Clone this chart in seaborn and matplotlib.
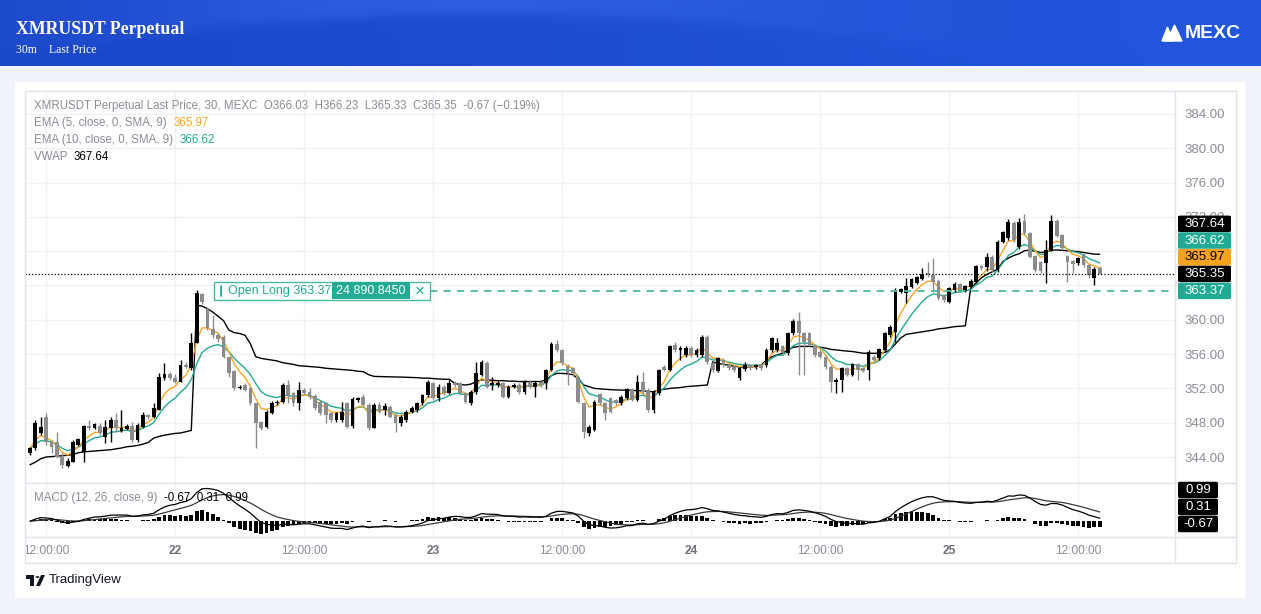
import numpy as np
import pandas as pd
import matplotlib
matplotlib.use("Agg")
import matplotlib.pyplot as plt
import seaborn as sns
from matplotlib.patches import Rectangle, FancyBboxPatch, Polygon, Circle
from matplotlib.lines import Line2D
from matplotlib import font_manager

# ---------------- data (30m candles) ----------------
opens = [344.43, 345.01, 346.76, 348.70, 345.79, 345.79, 344.04, 342.99, 343.45, 345.40,
         344.62, 347.61, 347.42, 347.65, 346.37, 347.34, 348.31, 347.03, 347.26, 347.65,
         345.98, 347.54, 348.90, 348.62, 349.48, 353.25, 353.64, 353.25, 352.78, 354.73,
         354.34, 357.25, 363.00, 361.22, 358.89, 358.23, 358.03, 355.70, 354.03, 352.00,
         352.40, 352.01, 350.26, 348.12, 347.54, 349.17, 350.26, 350.45, 352.40, 351.43,
         350.26, 351.82, 351.62, 351.12, 350.46, 350.26, 349.10, 348.32, 348.32, 350.26,
         347.62, 350.65, 351.04, 350.07, 347.35, 350.07, 349.50, 349.80, 348.90, 347.93,
         348.32, 349.29, 349.50, 350.34, 351.23, 352.60, 350.84, 352.21, 351.51, 352.60,
         352.59, 351.43, 350.26, 351.62, 353.57, 355.00, 352.40, 352.40, 352.59, 351.04,
         352.21, 352.40, 351.62, 352.79, 352.21, 352.79, 352.59, 354.15, 357.18, 356.48,
         354.62, 354.34, 353.37, 350.26, 346.76, 347.15, 351.35, 350.26, 350.84, 350.65,
         350.26, 350.84, 351.89, 350.65, 352.79, 351.82, 349.48, 351.43, 354.54, 354.15,
         357.06, 356.48, 355.90, 356.67, 355.90, 355.90, 358.03, 355.00, 354.07, 355.31,
         354.73, 354.54, 353.17, 354.22, 354.73, 354.54, 354.81, 354.73, 356.48, 356.48,
         356.95, 356.09, 358.42, 359.90, 358.42, 358.42, 357.06, 356.28, 355.70, 354.54,
         352.79, 352.98, 354.34, 353.56, 354.81, 354.34, 354.15, 355.70, 355.51, 356.48,
         358.23, 358.62, 363.28, 363.09, 363.86, 364.33, 364.72, 365.42, 365.22, 364.52,
         362.89, 362.11, 363.47, 364.17, 363.40, 363.86, 364.45, 366.27, 366.20, 367.36,
         365.81, 369.11, 369.50, 371.33, 368.53, 371.56, 370.08, 367.44, 366.78, 366.58,
         368.14, 371.56, 369.89, 367.44, 366.90, 366.58, 367.56, 366.39, 364.83, 366.03]
highs = [345.20, 348.31, 348.70, 349.17, 345.98, 346.95, 344.43, 343.84, 345.98, 346.20,
         347.73, 348.31, 348.00, 347.92, 348.31, 348.70, 349.09, 349.48, 347.90, 348.12,
         347.92, 349.29, 349.00, 350.26, 353.76, 354.92, 353.95, 353.64, 355.31, 355.12,
         358.42, 363.47, 363.16, 361.53, 360.56, 358.42, 358.23, 355.70, 354.14, 352.40,
         352.60, 352.20, 350.26, 348.20, 349.48, 350.50, 350.70, 352.60, 352.98, 351.60,
         352.79, 352.00, 352.00, 351.40, 350.65, 350.46, 349.30, 349.30, 350.46, 350.46,
         351.04, 351.00, 351.30, 350.26, 350.26, 350.46, 350.30, 350.07, 349.10, 348.90,
         349.50, 349.90, 350.46, 351.40, 352.98, 352.79, 352.50, 352.40, 352.98, 352.90,
         352.80, 351.60, 351.80, 355.12, 355.30, 355.20, 353.37, 352.90, 352.80, 352.40,
         352.60, 352.60, 353.00, 353.00, 352.90, 352.90, 354.30, 357.40, 357.65, 356.60,
         354.80, 354.50, 353.50, 350.40, 347.70, 350.60, 351.50, 350.40, 351.00, 350.80,
         351.20, 352.00, 352.00, 353.57, 353.95, 352.00, 351.80, 354.30, 354.70, 357.10,
         357.45, 356.90, 356.90, 356.90, 356.70, 358.20, 358.20, 355.20, 355.70, 355.50,
         354.90, 354.70, 354.50, 355.12, 354.90, 354.90, 355.00, 356.70, 358.00, 357.84,
         357.10, 358.60, 360.10, 360.95, 358.60, 358.60, 357.20, 356.50, 355.90, 354.70,
         353.20, 354.50, 354.50, 355.00, 355.00, 354.50, 356.50, 355.90, 356.70, 358.60,
         359.39, 363.67, 363.70, 364.83, 364.90, 365.10, 366.00, 366.78, 367.17, 364.70,
         363.00, 363.80, 364.45, 364.30, 364.10, 364.70, 366.40, 366.40, 367.83, 367.50,
         369.30, 370.40, 371.72, 371.50, 371.83, 372.34, 370.20, 367.60, 366.90, 369.31,
         372.22, 371.70, 370.00, 367.60, 367.00, 367.30, 367.83, 366.50, 366.10, 366.23]
lows = [344.20, 344.81, 346.56, 345.40, 344.43, 343.84, 342.68, 342.87, 343.45, 345.30,
        343.45, 347.15, 347.30, 346.56, 345.59, 345.79, 346.95, 346.95, 347.10, 345.79,
        345.79, 347.34, 348.40, 348.51, 349.48, 352.98, 352.98, 352.59, 352.78, 354.34,
        354.14, 357.25, 361.90, 358.81, 357.84, 357.45, 355.50, 353.37, 351.81, 351.90,
        351.70, 350.07, 345.01, 347.20, 347.35, 349.00, 350.10, 350.26, 350.26, 350.00,
        349.48, 351.30, 350.80, 349.50, 348.90, 347.93, 348.10, 348.10, 348.10, 347.35,
        347.40, 350.40, 349.90, 347.20, 347.35, 349.10, 348.90, 348.50, 346.96, 347.60,
        348.10, 349.10, 349.30, 350.10, 351.00, 350.60, 350.50, 351.20, 351.30, 352.20,
        351.20, 350.26, 350.10, 351.40, 353.40, 352.00, 351.82, 352.20, 350.90, 350.90,
        352.00, 351.40, 351.40, 352.00, 351.04, 352.20, 351.97, 354.00, 356.30, 354.70,
        352.40, 353.50, 350.30, 346.18, 346.50, 347.00, 350.10, 348.32, 349.10, 350.10,
        350.10, 350.70, 350.50, 350.50, 351.40, 349.30, 349.10, 351.20, 354.00, 354.00,
        356.30, 355.31, 355.70, 355.70, 355.70, 355.70, 354.90, 353.90, 353.90, 354.50,
        354.10, 353.90, 353.00, 354.00, 354.10, 354.30, 354.20, 354.50, 356.30, 356.30,
        355.90, 355.90, 358.20, 353.56, 353.56, 356.90, 355.70, 355.50, 354.30, 351.62,
        351.43, 351.62, 353.40, 353.40, 352.98, 353.90, 352.98, 355.10, 355.30, 356.30,
        358.00, 357.45, 363.10, 361.92, 363.70, 364.20, 364.60, 365.00, 363.28, 362.30,
        362.11, 362.00, 363.30, 363.20, 363.20, 363.70, 364.30, 365.80, 365.73, 365.61,
        365.60, 369.00, 369.30, 369.10, 368.30, 369.90, 367.20, 365.60, 365.50, 364.25,
        368.00, 369.60, 368.10, 364.45, 365.42, 366.40, 366.20, 364.83, 364.06, 365.33]
closes = [345.01, 347.92, 347.54, 345.79, 345.20, 344.04, 343.07, 343.53, 345.71, 346.06,
          347.61, 347.34, 347.81, 346.76, 347.54, 348.31, 347.34, 347.42, 347.65, 345.98,
          347.73, 348.90, 348.62, 349.67, 353.37, 353.64, 353.17, 352.78, 354.73, 354.46,
          357.25, 363.09, 362.11, 359.00, 358.23, 357.72, 355.70, 353.76, 352.01, 352.20,
          351.82, 350.26, 347.93, 347.35, 349.29, 350.26, 350.45, 352.40, 351.23, 350.26,
          351.82, 351.50, 351.04, 349.68, 349.10, 348.90, 348.32, 349.10, 349.29, 347.54,
          350.77, 350.84, 350.07, 347.35, 350.07, 349.29, 349.95, 348.71, 347.93, 348.71,
          349.29, 349.68, 350.26, 351.23, 352.79, 350.84, 352.21, 351.51, 352.60, 352.40,
          351.43, 350.46, 351.62, 353.76, 355.12, 352.21, 352.59, 352.67, 351.04, 352.21,
          352.40, 351.62, 352.87, 352.21, 352.67, 352.40, 354.15, 357.18, 356.48, 354.93,
          353.76, 353.76, 350.46, 346.96, 347.46, 350.46, 350.26, 349.10, 349.29, 350.26,
          351.04, 351.89, 350.65, 352.79, 351.62, 349.48, 351.62, 354.15, 354.15, 356.95,
          356.48, 356.67, 356.67, 355.90, 356.48, 358.03, 355.12, 354.15, 355.51, 354.73,
          354.34, 354.15, 354.34, 354.73, 354.34, 354.73, 354.42, 356.48, 357.84, 357.33,
          356.09, 358.42, 359.90, 358.42, 357.45, 357.06, 355.90, 355.70, 354.54, 352.79,
          352.98, 354.34, 353.56, 354.85, 354.15, 354.07, 356.28, 355.31, 356.56, 358.42,
          359.20, 363.47, 363.55, 363.94, 364.76, 364.95, 365.34, 365.22, 364.45, 362.50,
          362.31, 363.67, 364.17, 363.40, 363.98, 364.52, 366.27, 366.00, 367.36, 365.81,
          369.11, 370.28, 371.44, 369.31, 371.44, 370.08, 367.36, 365.81, 365.73, 368.14,
          371.56, 369.77, 368.33, 366.78, 366.51, 367.17, 366.39, 365.22, 365.92, 365.35]
vwap = [343.1, 343.4, 343.8, 344.0, 344.05, 344.1, 344.15, 344.2, 344.3, 344.5,
        344.6, 344.65, 344.7, 344.75, 344.8, 344.85, 344.95, 345.05, 345.2, 345.25,
        345.35, 345.5, 345.7, 346.2, 346.4, 346.55, 346.65, 346.75, 346.8, 346.95,
        347.1, 361.7, 361.6, 361.3, 360.9, 360.4, 359.9, 358.8, 358.5, 358.4,
        358.2, 357.2, 355.7, 355.5, 355.4, 355.3, 355.2, 355.0, 354.9, 354.8,
        354.65, 354.6, 354.55, 354.5, 354.45, 354.35, 354.3, 354.25, 354.2, 354.15,
        354.1, 354.0, 353.95, 353.6, 353.4, 353.38, 353.36, 353.35, 353.34, 353.32,
        353.3, 353.28, 353.25, 353.2, 353.2, 353.15, 353.1, 353.08, 353.05, 352.6,
        352.45, 352.4, 352.5, 352.8, 353.0, 353.0, 352.95, 352.9, 352.9, 352.85,
        352.85, 352.8, 352.8, 352.8, 352.8, 352.8, 353.0, 353.5, 353.75, 353.75,
        353.7, 353.6, 353.1, 352.4, 352.2, 352.0, 351.95, 351.9, 351.85, 351.82,
        351.8, 351.8, 351.75, 351.75, 351.7, 351.65, 351.6, 351.8, 351.9, 352.0,
        352.05, 352.1, 352.2, 352.25, 352.3, 352.35, 352.4, 355.1, 354.9, 354.8,
        354.7, 354.6, 354.5, 354.5, 354.5, 354.55, 354.7, 355.3, 355.7, 355.9,
        356.1, 356.5, 356.8, 356.9, 356.9, 356.9, 356.85, 356.8, 356.7, 356.55,
        356.48, 356.4, 356.35, 356.3, 356.2, 356.1, 356.1, 356.1, 356.1, 356.2,
        356.5, 357.2, 357.9, 358.3, 358.4, 358.5, 358.6, 358.7, 358.8, 358.95,
        359.0, 359.1, 359.2, 359.25, 359.3, 363.7, 364.3, 364.9, 365.3, 365.6,
        365.9, 366.8, 367.2, 367.5, 367.7, 368.05, 368.15, 368.0, 367.85, 367.9,
        368.1, 368.15, 368.1, 368.05, 368.0, 367.95, 367.85, 367.75, 367.65, 367.64]

price_ticks = [344, 348, 352, 356, 360, 364, 368, 372, 376, 380, 384]
hidden_price_ticks = [364, 368]          # covered by the last-value labels in the reference
time_tick_pos = [3, 27, 51, 75, 99, 123, 147, 171, 195]
time_tick_labels = ["12:00:00", "22", "12:00:00", "23", "12:00:00", "24", "12:00:00", "25", "12:00:00"]
last_ohlc = [366.03, 366.23, 365.33, 365.35]
last_change = [-0.67, -0.19]
ema_last = [365.97, 366.62]
vwap_last = 367.64
macd_last = [-0.67, 0.31, 0.99]
open_long_price = 363.37
open_long_qty = "24 890.8450"

# ---------------- indicators ----------------
df = pd.DataFrame({"i": np.arange(len(closes)), "open": opens, "high": highs,
                   "low": lows, "close": closes, "vwap": vwap})
df["ema5"] = df["close"].ewm(span=5, adjust=False).mean()
df["ema10"] = df["close"].ewm(span=10, adjust=False).mean()
ema12 = df["close"].ewm(span=12, adjust=False).mean()
ema26 = df["close"].ewm(span=26, adjust=False).mean()
df["macd"] = ema12 - ema26
df["signal"] = df["macd"].ewm(span=9, adjust=False).mean()
df["hist"] = df["macd"] - df["signal"]

# ---------------- style ----------------
W, H = 1261, 614
sns.set_theme(style="white")
avail = {f.name for f in font_manager.fontManager.ttflist}
def pick(*names):
    for n in names:
        if n in avail:
            return n
    return None
NARROW = pick("Liberation Sans Narrow")
UI = pick("Liberation Sans", "Roboto", "DejaVu Sans") or "DejaVu Sans"
SERIF = pick("Liberation Serif", "DejaVu Serif") or "DejaVu Serif"
LEG_FONT = NARROW or UI
LEG_SIZE = 10.0 if NARROW else 8.3
plt.rcParams["font.family"] = [UI, "DejaVu Sans"]

GRAY_TXT = "#8a8d96"
UP = "#000000"
DOWN = "#8c8c8c"
ORANGE = "#f5a623"
GREEN = "#22ab94"
TEAL = "#4cb9a0"

fig = plt.figure(figsize=(W / 100, H / 100), dpi=100)
fig.patch.set_facecolor("#f0f3fa")

def fx(px):
    return px / W
def fy(py):
    return 1 - py / H
def frect(x0, y0, x1, y1):
    return [fx(x0), fy(y1), (x1 - x0) / W, (y1 - y0) / H]

# header gradient
axh = fig.add_axes(frect(0, 0, W, 66))
nx, ny = 600, 66
xx = np.linspace(0, 1, nx)[None, :]
yy = np.linspace(0, 1, ny)[:, None]
c0 = np.array([0x1a, 0x46, 0xc8]) / 255
c1 = np.array([0x23, 0x56, 0xde]) / 255
base = c0[None, None, :] * (1 - xx[..., None]) + c1[None, None, :] * xx[..., None]
curve = 0.75 - 0.55 * np.sin(np.pi * np.clip((xx - 0.02) / 0.75, 0, 1))
mask = 1 / (1 + np.exp(-(curve - yy) * 20))
glow = 0.07 * mask * np.exp(-((xx - 0.35) / 0.28) ** 2)
img = np.clip(base + glow[..., None], 0, 1)
axh.imshow(img, aspect="auto", extent=(0, 1, 0, 1))
axh.axis("off")
fig.text(fx(16), fy(30), "XMRUSDT Perpetual", family=SERIF, weight="bold",
         fontsize=12.8, color="white", va="center", ha="left")
fig.text(fx(16), fy(50), "30m    Last Price", family=SERIF, fontsize=8.5,
         color="white", va="center", ha="left")
# MEXC logo
fig.add_artist(Polygon([(fx(1162), fy(41)), (fx(1167.5), fy(27)), (fx(1173), fy(41))],
                       closed=True, transform=fig.transFigure, color="white", zorder=6))
fig.add_artist(Polygon([(fx(1167), fy(41)), (fx(1174.5), fy(25)), (fx(1182), fy(41))],
                       closed=True, transform=fig.transFigure, color="white", zorder=6))
fig.text(fx(1185), fy(33.5), "MEXC", family=UI, weight="bold", fontsize=14,
         color="white", va="center", ha="left", zorder=6)

# white card
fig.add_artist(Rectangle((fx(15), fy(598)), 1230 / W, 516 / H, transform=fig.transFigure,
                         facecolor="white", edgecolor="none", zorder=-1))

# ---------------- main price pane ----------------
ax = fig.add_axes(frect(25, 91, 1175, 483))
ax.set_facecolor("white")
idx = df["i"].values
o = df["open"].values; hh = df["high"].values; ll = df["low"].values; c = df["close"].values
col = np.where(c >= o, UP, DOWN)
sns.lineplot(x=idx, y=df["vwap"].values, ax=ax, color="#000000", lw=1.0, zorder=2)
sns.lineplot(x=idx, y=df["ema10"].values, ax=ax, color=GREEN, lw=1.0, zorder=2)
sns.lineplot(x=idx, y=df["ema5"].values, ax=ax, color=ORANGE, lw=1.0, zorder=2)
ax.vlines(idx, ll, hh, colors=col, lw=1.0, zorder=3)
ax.bar(idx, np.maximum(np.abs(c - o), 0.08), bottom=np.minimum(o, c), width=0.7,
       color=col, linewidth=0, zorder=4)
ax.set_xlim(-0.93, 213.0)
ax.set_ylim(340.97, 386.68)
ax.set_xlabel(""); ax.set_ylabel("")
ax.set_yticks(price_ticks)
ax.set_yticklabels(["" if p in hidden_price_ticks else f"{p:.2f}" for p in price_ticks])
ax.yaxis.tick_right()
ax.tick_params(axis="y", length=0, pad=7, labelcolor=GRAY_TXT, labelsize=9.5)
for t in ax.get_yticklabels():
    t.set_fontfamily(LEG_FONT)
    t.set_fontsize(LEG_SIZE + 0.6 if NARROW else 9.5)
ax.set_xticks(time_tick_pos)
ax.tick_params(axis="x", length=0, labelbottom=False)
ax.grid(True, color="#f0f1f4", lw=1)
for s in ax.spines.values():
    s.set_visible(False)

# close-price dotted line and open-long dashed line
ax.axhline(last_ohlc[3], color="#000000", ls=(0, (1, 1.6)), lw=0.9, zorder=5)
x_px_to_i = lambda px: -0.93 + (px - 25) / 5.375
ax.hlines(open_long_price, x_px_to_i(430), 213.0, color=TEAL, ls=(0, (4, 3.5)), lw=1.3, zorder=5)

def price_py(p):
    return H - ax.transData.transform((0, p))[1]

# ---------------- MACD pane ----------------
ax2 = fig.add_axes(frect(25, 483, 1175, 537))
ax2.set_facecolor("white")
ax2.bar(idx, df["hist"].values, width=0.7, color="#000000", linewidth=0, zorder=3)
sns.lineplot(x=idx, y=df["signal"].values, ax=ax2, color="#3a3a3a", lw=0.9, zorder=4)
sns.lineplot(x=idx, y=df["macd"].values, ax=ax2, color="#000000", lw=0.9, zorder=4)
vals = np.concatenate([df["hist"].values, df["macd"].values, df["signal"].values])
lo, hi = vals.min(), vals.max()
ax2.set_ylim(lo - 0.06 * (hi - lo), hi + 0.12 * (hi - lo))
ax2.set_xlim(-0.93, 213.0)
ax2.set_xlabel(""); ax2.set_ylabel("")
ax2.set_yticks([])
ax2.set_xticks(time_tick_pos)
ax2.tick_params(axis="x", length=0, labelbottom=False)
ax2.grid(True, axis="x", color="#f0f1f4", lw=1)
for s in ax2.spines.values():
    s.set_visible(False)

# ---------------- time axis ----------------
axt = fig.add_axes(frect(25, 537, 1175, 563))
axt.set_xlim(-0.93, 213.0); axt.set_ylim(0, 1)
axt.axis("off")
for pos, lab in zip(time_tick_pos, time_tick_labels):
    day = lab.isdigit()
    axt.text(pos, 0.45, lab, ha="center", va="center", fontsize=LEG_SIZE + 0.3,
             family=LEG_FONT, color="#6d7079" if day else GRAY_TXT,
             weight="bold" if day else "normal", clip_on=True)

# ---------------- frame lines ----------------
FR = "#e0e3eb"
def fline(x0, y0, x1, y1, color=FR, lw=1.0, ls="-", z=6):
    fig.add_artist(Line2D([fx(x0), fx(x1)], [fy(y0), fy(y1)], transform=fig.transFigure,
                          color=color, lw=lw, ls=ls, zorder=z))
fline(25, 91, 1236, 91); fline(25, 563, 1236, 563)
fline(25, 91, 25, 563); fline(1236, 91, 1236, 563)
fline(1175, 91, 1175, 563)
fline(25, 483, 1236, 483); fline(25, 537, 1236, 537)

# ---------------- legends ----------------
fig.canvas.draw()
renderer = fig.canvas.get_renderer()
def seq_text(x_px, y_px, parts, size=LEG_SIZE):
    x = x_px
    for s, colr in parts:
        t = fig.text(fx(x), fy(y_px), s, color=colr, fontsize=size, family=LEG_FONT,
                     va="center", ha="left", zorder=7)
        x += t.get_window_extent(renderer).width

line1 = (f"XMRUSDT Perpetual Last Price, 30, MEXC  O{last_ohlc[0]:.2f}  H{last_ohlc[1]:.2f}  "
         f"L{last_ohlc[2]:.2f}  C{last_ohlc[3]:.2f}  {last_change[0]:.2f} (\u2212{abs(last_change[1]):.2f}%)")
seq_text(34, 106, [(line1, GRAY_TXT)])
seq_text(34, 123, [("EMA (5, close, 0, SMA, 9)  ", GRAY_TXT), (f"{ema_last[0]:.2f}", ORANGE)])
seq_text(34, 140, [("EMA (10, close, 0, SMA, 9)  ", GRAY_TXT), (f"{ema_last[1]:.2f}", GREEN)])
seq_text(34, 157, [("VWAP  ", GRAY_TXT), (f"{vwap_last:.2f}", "#000000")])
seq_text(34, 498, [("MACD (12, 26, close, 9)  ", GRAY_TXT),
                   (f"{macd_last[0]:.2f}  {macd_last[1]:.2f}  {macd_last[2]:.2f}", "#000000")])

# ---------------- price labels on axis ----------------
def axis_box(x0, x1, yc, face, txt, tcol, h=16.5):
    fig.add_artist(FancyBboxPatch((fx(x0), fy(yc + h / 2)), (x1 - x0) / W, h / H,
                                  boxstyle="round,pad=0,rounding_size=0.002",
                                  transform=fig.transFigure, facecolor=face,
                                  edgecolor="none", zorder=8))
    fig.text(fx((x0 + x1) / 2), fy(yc), txt, color=tcol, fontsize=LEG_SIZE + 0.6 if NARROW else 9.5,
             family=LEG_FONT, ha="center", va="center", zorder=9)

y_close = price_py(last_ohlc[3])
step = 16.7
axis_box(1178, 1231, y_close - 3 * step, "#000000", f"{vwap_last:.2f}", "white")
axis_box(1178, 1231, y_close - 2 * step, GREEN, f"{ema_last[1]:.2f}", "white")
axis_box(1178, 1231, y_close - 1 * step, "#f7a21b", f"{ema_last[0]:.2f}", "#000000")
axis_box(1178, 1231, y_close, "#000000", f"{last_ohlc[3]:.2f}", "white")
axis_box(1178, 1231, price_py(open_long_price), GREEN, f"{open_long_price:.2f}", "white")
axis_box(1178, 1218, 490, "#000000", f"{macd_last[2]:.2f}", "white")
axis_box(1178, 1218, 507, "#000000", f"{macd_last[1]:.2f}", "white")
axis_box(1178, 1218, 524, "#000000", f"{macd_last[0]:.2f}", "white")

# ---------------- open long label ----------------
yl = price_py(open_long_price)
fig.add_artist(Rectangle((fx(214), fy(yl + 9)), 216 / W, 18 / H, transform=fig.transFigure,
                         facecolor="white", edgecolor=TEAL, lw=1.0, zorder=8))
fig.add_artist(Rectangle((fx(332), fy(yl + 8.5)), 78 / W, 17 / H, transform=fig.transFigure,
                         facecolor=GREEN, edgecolor="none", zorder=9))
fline(221, yl - 5, 221, yl + 5, color=GREEN, lw=1.3, z=9)
fig.text(fx(228), fy(yl), f"Open Long {open_long_price:.2f}", color=GREEN,
         fontsize=LEG_SIZE + 0.4 if NARROW else 9, family=LEG_FONT,
         ha="left", va="center", zorder=9)
fig.text(fx(371), fy(yl), open_long_qty, color="white",
         fontsize=LEG_SIZE + 0.4 if NARROW else 9, family=LEG_FONT,
         ha="center", va="center", zorder=10)
fig.text(fx(420), fy(yl), "\u00d7", color=GREEN, fontsize=12, ha="center",
         va="center", zorder=10)

# ---------------- TradingView logo ----------------
fig.add_artist(Rectangle((fx(26), fy(579)), 8 / W, 4 / H, transform=fig.transFigure,
                         facecolor="#131722", edgecolor="none", zorder=8))
fig.add_artist(Rectangle((fx(30), fy(586)), 4 / W, 11 / H, transform=fig.transFigure,
                         facecolor="#131722", edgecolor="none", zorder=8))
fig.add_artist(Circle((fx(37.5), fy(577)), 1.9 / W, transform=fig.transFigure,
                      facecolor="#131722", edgecolor="none", zorder=8))
fig.add_artist(Polygon([(fx(36), fy(586)), (fx(41), fy(575)), (fx(45), fy(575)), (fx(40), fy(586))],
                       closed=True, transform=fig.transFigure, facecolor="#131722",
                       edgecolor="none", zorder=8))
fig.text(fx(49), fy(580.5), "TradingView", color="#131722", fontsize=9.5, ha="left",
         va="center", zorder=8)

fig.savefig("out.png", dpi=100, facecolor=fig.get_facecolor())
